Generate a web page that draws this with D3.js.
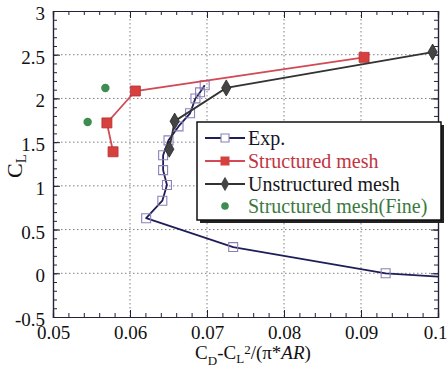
<!DOCTYPE html>
<html><head><meta charset="utf-8">
<script src="https://cdn.jsdelivr.net/npm/d3@7"></script>
<style>
html,body{margin:0;padding:0;background:#fff;}
svg{display:block;}
svg text{font-family:"Liberation Serif","Times New Roman",serif !important;}
</style></head>
<body>
<script>
// ---- data ----
const xTicks = [0.05, 0.06, 0.07, 0.08, 0.09, 0.1];
const xTickLabels = ["0.05", "0.06", "0.07", "0.08", "0.09", "0.1"];
const yTicks = [-0.5, 0, 0.5, 1, 1.5, 2, 2.5, 3];
const yTickLabels = ["-0.5", "0", "0.5", "1", "1.5", "2", "2.5", "3"];

const expX = [0.0697, 0.0691, 0.0685, 0.0678, 0.0663, 0.0650, 0.0643, 0.0643, 0.0648, 0.0642, 0.0621, 0.0734, 0.0932, 0.1040];
const expY = [2.15, 2.07, 2.00, 1.83, 1.68, 1.52, 1.35, 1.18, 1.01, 0.83, 0.63, 0.30, 0.00, -0.06];

const strX = [0.0578, 0.0570, 0.0607, 0.0904];
const strY = [1.39, 1.72, 2.085, 2.47];

const unsX = [0.0651, 0.0658, 0.0725, 0.0993];
const unsY = [1.42, 1.74, 2.12, 2.53];

const fineX = [0.0545, 0.0568];
const fineY = [1.73, 2.12];

const legendLabels = ["Exp.", "Structured mesh", "Unstructured mesh", "Structured mesh(Fine)"];

// ---- chart ----
const W = 447, H = 369;
const x = d3.scaleLinear().domain([0.05, 0.1]).range([53, 438]);
const y = d3.scaleLinear().domain([-0.5, 3]).range([317, 11]);

const svg = d3.select("body").append("svg").attr("width", W).attr("height", H);
svg.append("rect").attr("width", W).attr("height", H).attr("fill", "#fff");

svg.append("defs").append("clipPath").attr("id", "clip")
  .append("rect").attr("x", x(0.05)).attr("y", y(3))
  .attr("width", x(0.1) - x(0.05)).attr("height", y(-0.5) - y(3));

// grid
const grid = svg.append("g");
grid.selectAll(".gx").data(xTicks.slice(1, -1)).enter().append("line")
  .attr("x1", d => x(d)).attr("x2", d => x(d)).attr("y1", y(3)).attr("y2", y(-0.5))
  .attr("stroke", "#808080").attr("stroke-width", 1).attr("stroke-dasharray", "1.5,2.5");
grid.selectAll(".gy").data(yTicks.slice(1, -1)).enter().append("line")
  .attr("y1", d => y(d)).attr("y2", d => y(d)).attr("x1", x(0.05)).attr("x2", x(0.1))
  .attr("stroke", "#808080").attr("stroke-width", 1).attr("stroke-dasharray", "1.5,2.5");

// axes with inward ticks
const xMinor = d3.range(0.05, 0.1001, 0.002);
const yMinor = d3.range(-0.5, 3.001, 0.1);
const axisCol = "#22223a";
function styleAxis(g) {
  g.select(".domain").attr("stroke", axisCol).attr("stroke-width", 1.2);
  g.selectAll(".tick line").attr("stroke", axisCol);
}
// minor
svg.append("g").attr("transform", `translate(0,${y(-0.5)})`)
  .call(d3.axisBottom(x).tickValues(xMinor).tickSize(-4).tickFormat(""))
  .call(styleAxis);
svg.append("g").attr("transform", `translate(0,${y(3)})`)
  .call(d3.axisTop(x).tickValues(xMinor).tickSize(-4).tickFormat(""))
  .call(styleAxis);
svg.append("g").attr("transform", `translate(${x(0.05)},0)`)
  .call(d3.axisLeft(y).tickValues(yMinor).tickSize(-4).tickFormat(""))
  .call(styleAxis);
svg.append("g").attr("transform", `translate(${x(0.1)},0)`)
  .call(d3.axisRight(y).tickValues(yMinor).tickSize(-4).tickFormat(""))
  .call(styleAxis);
// major
const xb = svg.append("g").attr("transform", `translate(0,${y(-0.5)})`)
  .call(d3.axisBottom(x).tickValues(xTicks).tickSize(-7).tickPadding(9)
    .tickFormat((d, i) => xTickLabels[i]))
  .call(styleAxis);
xb.selectAll("text").attr("font-size", 19).attr("fill", "#111")
  .attr("dx", (d, i) => i === xTicks.length - 1 ? -3 : 0);
svg.append("g").attr("transform", `translate(0,${y(3)})`)
  .call(d3.axisTop(x).tickValues(xTicks).tickSize(-7).tickFormat(""))
  .call(styleAxis);
const yl = svg.append("g").attr("transform", `translate(${x(0.05)},0)`)
  .call(d3.axisLeft(y).tickValues(yTicks).tickSize(-7).tickPadding(8)
    .tickFormat((d, i) => yTickLabels[i]))
  .call(styleAxis);
yl.selectAll("text").attr("font-size", 19).attr("fill", "#111").attr("dy", "0.45em");
svg.append("g").attr("transform", `translate(${x(0.1)},0)`)
  .call(d3.axisRight(y).tickValues(yTicks).tickSize(-7).tickFormat(""))
  .call(styleAxis);

// series
const plot = svg.append("g").attr("clip-path", "url(#clip)");
const zip = (xs, ys) => xs.map((v, i) => [v, ys[i]]);
const expD = zip(expX, expY), strD = zip(strX, strY), unsD = zip(unsX, unsY), fineD = zip(fineX, fineY);

const lineLin = d3.line().x(d => x(d[0])).y(d => y(d[1]));

const expStroke = "#1e1e58", expMark = "#8b80b8";
const redC = "#d6403e", redL = "#d14a55";
const unsC = "#333333";
const greenC = "#3d8c50";

// Exp
plot.append("path").datum(expD).attr("d", lineLin)
  .attr("fill", "none").attr("stroke", expStroke).attr("stroke-width", 1.8)
  .attr("stroke-linejoin", "round");
plot.selectAll(".exp").data(expD).enter().append("path")
  .attr("transform", d => `translate(${x(d[0])},${y(d[1])})`)
  .attr("d", d3.symbol(d3.symbolSquare, 80)())
  .attr("fill", "none").attr("stroke", expMark).attr("stroke-width", 1.1);

// Structured
plot.append("path").datum(strD).attr("d", lineLin)
  .attr("fill", "none").attr("stroke", redL).attr("stroke-width", 1.8);
plot.selectAll(".str").data(strD).enter().append("path")
  .attr("transform", d => `translate(${x(d[0])},${y(d[1])})`)
  .attr("d", d3.symbol(d3.symbolSquare, 100)())
  .attr("fill", redC).attr("stroke", "#b83030").attr("stroke-width", 0.8);

// Unstructured
plot.append("path").datum(unsD).attr("d", lineLin)
  .attr("fill", "none").attr("stroke", unsC).attr("stroke-width", 1.8);
plot.selectAll(".uns").data(unsD).enter().append("path")
  .attr("transform", d => `translate(${x(d[0])},${y(d[1])})`)
  .attr("d", d3.symbol(d3.symbolDiamond, 75)())
  .attr("fill", "#444").attr("stroke", "#2a2a2a").attr("stroke-width", 0.8);

// Fine
plot.selectAll(".fine").data(fineD).enter().append("circle")
  .attr("cx", d => x(d[0])).attr("cy", d => y(d[1])).attr("r", 4.2)
  .attr("fill", greenC);

// axis titles
const xt = svg.append("text").attr("x", 253).attr("y", 359).attr("text-anchor", "middle")
  .attr("font-size", 19).attr("fill", "#111");
xt.append("tspan").text("C");
xt.append("tspan").attr("dy", 6).attr("font-size", 13).text("D");
xt.append("tspan").attr("dy", -6).text("-C");
xt.append("tspan").attr("dy", 4).attr("font-size", 13).text("L");
xt.append("tspan").attr("dy", -9).attr("font-size", 13).text("2");
xt.append("tspan").attr("dy", 5).text("/(π*");
xt.append("tspan").attr("font-style", "italic").text("AR");
xt.append("tspan").text(")");

const yt = svg.append("text").attr("transform", "translate(22,178) rotate(-90)")
  .attr("font-size", 22).attr("fill", "#111");
yt.append("tspan").text("C");
yt.append("tspan").attr("dy", 4).attr("font-size", 15).text("L");

// legend
const lg = svg.append("g");
const lx = 197, ly = 122, lw = 244, lh = 98;
lg.append("rect").attr("x", lx + 3).attr("y", ly + 3).attr("width", lw).attr("height", lh).attr("fill", "#222");
lg.append("rect").attr("x", lx).attr("y", ly).attr("width", lw).attr("height", lh)
  .attr("fill", "#fff").attr("stroke", "#111").attr("stroke-width", 1.5);
const rowY = [138, 161, 184, 206];
const legColors = ["#15152a", "#c2343f", "#15151a", "#3a7a3e"];
legendLabels.forEach((lab, i) => {
  const cy = rowY[i];
  if (i < 3) {
    lg.append("line").attr("x1", 205).attr("x2", 245).attr("y1", cy).attr("y2", cy)
      .attr("stroke", [expStroke, redL, unsC][i]).attr("stroke-width", 1.8);
  }
  const sym = lg.append("g").attr("transform", `translate(225,${cy})`);
  if (i === 0) sym.append("path").attr("d", d3.symbol(d3.symbolSquare, 64)())
    .attr("fill", "#fff").attr("stroke", expMark).attr("stroke-width", 1.1);
  if (i === 1) sym.append("path").attr("d", d3.symbol(d3.symbolSquare, 81)()).attr("fill", redC);
  if (i === 2) sym.append("path").attr("d", d3.symbol(d3.symbolDiamond, 60)()).attr("fill", "#444");
  if (i === 3) sym.append("circle").attr("r", 3.8).attr("fill", greenC);
  lg.append("text").attr("x", 248).attr("y", cy + 7).attr("font-size", 20)
    .attr("fill", legColors[i]).text(lab);
});
</script>
</body></html>
